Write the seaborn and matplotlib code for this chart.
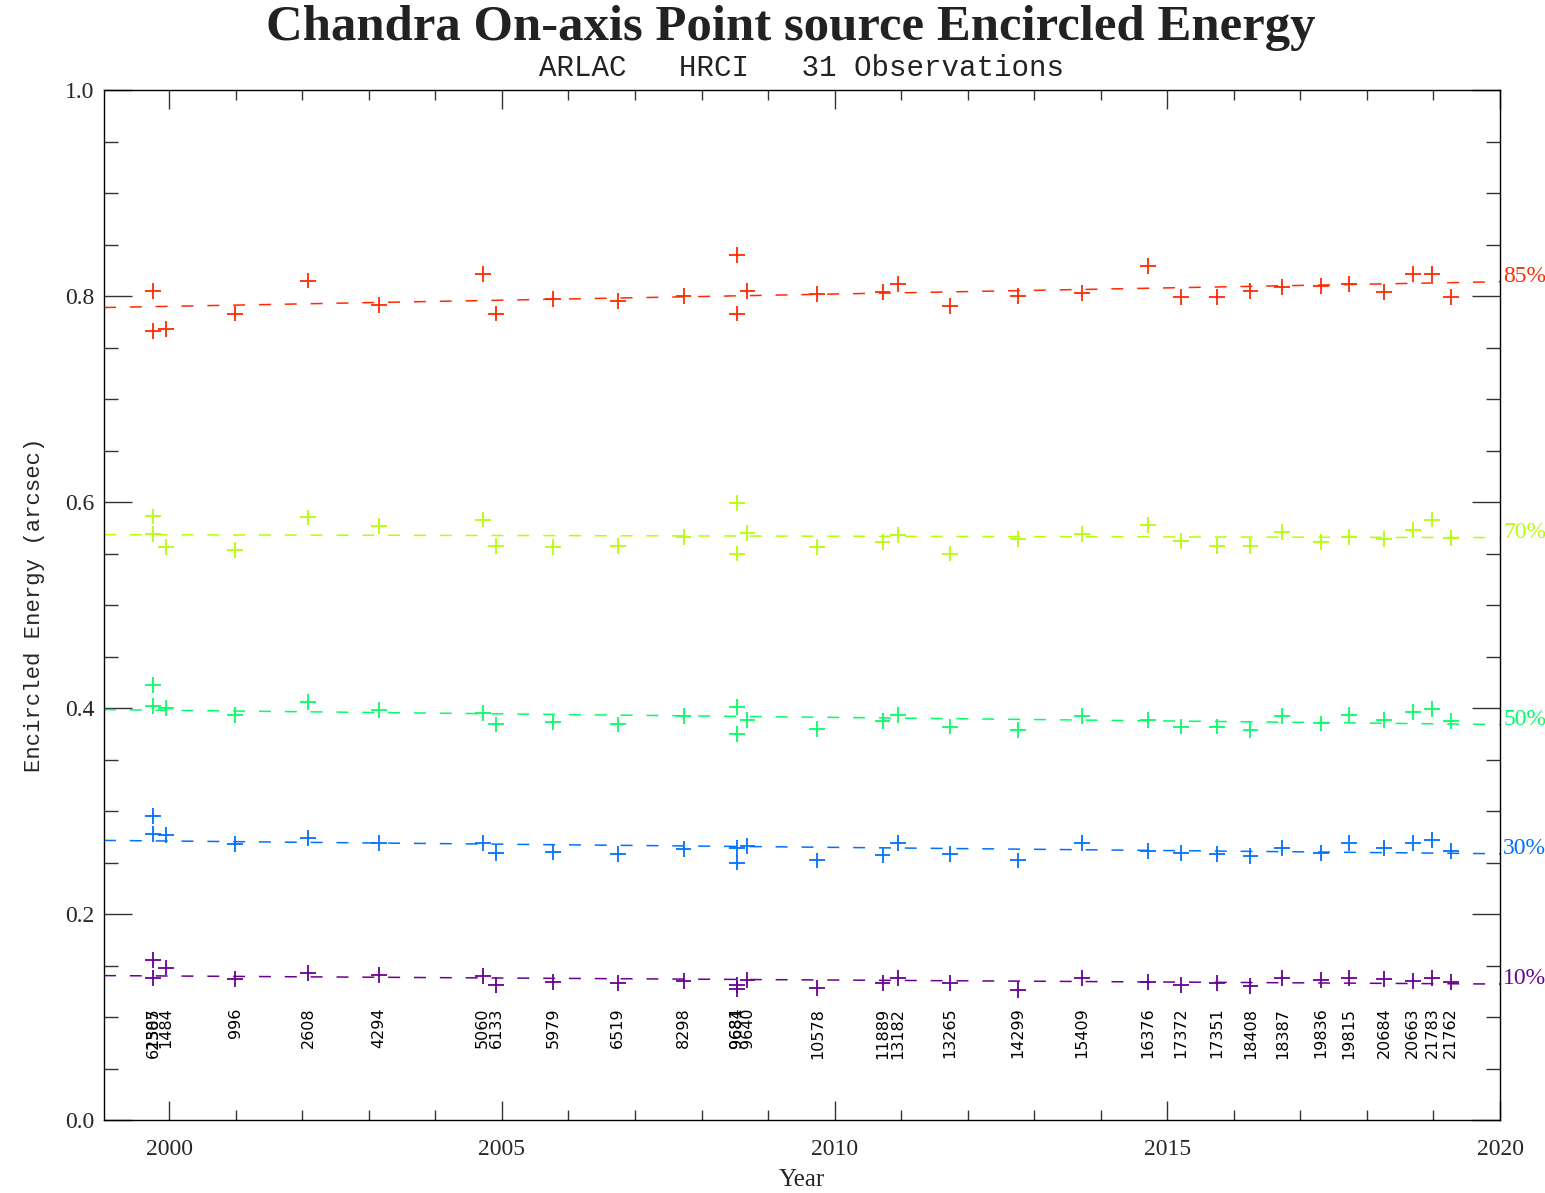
import numpy as np
import pandas as pd
import matplotlib
matplotlib.use("Agg")
import matplotlib.pyplot as plt
from matplotlib.ticker import MultipleLocator
import seaborn as sns

# observation ids, in plotting order
obsids = ["62507", "1385", "1484", "996", "2608", "4294", "5060", "6133", "5979", "6519",
          "8298", "9684", "9681", "9640", "10578", "11889", "13182", "13265", "14299", "15409",
          "16376", "17372", "17351", "18408", "18387", "19836", "19815", "20684", "20663", "21783",
          "21762"]
years = [1999.76, 1999.76, 1999.95, 2000.99, 2002.09, 2003.15, 2004.71, 2004.91, 2005.77, 2006.74,
         2007.73, 2008.53, 2008.53, 2008.69, 2009.74, 2010.72, 2010.95, 2011.73, 2012.75, 2013.72,
         2014.71, 2015.20, 2015.75, 2016.25, 2016.73, 2017.31, 2017.73, 2018.26, 2018.69, 2018.98,
         2019.26]

# encircled energy radius per fraction
ee85 = [0.805, 0.766, 0.768, 0.783, 0.815, 0.791, 0.821, 0.783, 0.797, 0.795,
        0.800, 0.840, 0.783, 0.805, 0.802, 0.804, 0.812, 0.790, 0.800, 0.803,
        0.829, 0.799, 0.799, 0.805, 0.809, 0.810, 0.812, 0.804, 0.821, 0.821,
        0.799]
ee70 = [0.586, 0.569, 0.556, 0.553, 0.585, 0.577, 0.583, 0.557, 0.556, 0.557,
        0.566, 0.599, 0.550, 0.570, 0.556, 0.561, 0.568, 0.550, 0.564, 0.569,
        0.578, 0.562, 0.557, 0.557, 0.571, 0.561, 0.566, 0.564, 0.573, 0.583,
        0.565]
ee50 = [0.422, 0.402, 0.400, 0.393, 0.406, 0.398, 0.395, 0.384, 0.386, 0.384,
        0.392, 0.401, 0.375, 0.388, 0.380, 0.387, 0.393, 0.382, 0.379, 0.392,
        0.388, 0.382, 0.382, 0.379, 0.392, 0.385, 0.393, 0.388, 0.396, 0.399,
        0.387]
ee30 = [0.295, 0.278, 0.277, 0.268, 0.274, 0.269, 0.269, 0.259, 0.260, 0.258,
        0.263, 0.264, 0.250, 0.266, 0.252, 0.257, 0.269, 0.258, 0.252, 0.269,
        0.261, 0.259, 0.258, 0.256, 0.264, 0.259, 0.269, 0.264, 0.269, 0.272,
        0.261]
ee10 = [0.155, 0.138, 0.148, 0.137, 0.143, 0.141, 0.140, 0.131, 0.134, 0.133,
        0.135, 0.131, 0.127, 0.136, 0.128, 0.133, 0.138, 0.133, 0.126, 0.138,
        0.134, 0.131, 0.133, 0.130, 0.138, 0.136, 0.138, 0.137, 0.135, 0.138,
        0.134]

fractions = ["85%", "70%", "50%", "30%", "10%"]
colors = ["#ff2a00", "#b4ff00", "#00ff66", "#0070ff", "#6a0090"]

series = dict(zip(fractions, [ee85, ee70, ee50, ee30, ee10]))
df = pd.concat([pd.DataFrame({"year": years, "ee": v, "frac": k}) for k, v in series.items()],
               ignore_index=True)

sns.set_theme(style="ticks")
plt.rcParams["font.family"] = ["Liberation Serif", "DejaVu Serif"]
plt.rcParams["lines.scale_dashes"] = False

fig = plt.figure(figsize=(15.45, 11.93), dpi=100)
ax = fig.add_axes([104 / 1545, 1 - 1120 / 1193, (1500 - 104) / 1545, (1120 - 90) / 1193])

sns.scatterplot(data=df, x="year", y="ee", hue="frac", palette=dict(zip(fractions, colors)),
                marker="+", s=130, linewidth=1.3, legend=False, ax=ax, zorder=3)

xlo, xhi = 1999.02, 2020.0
xx = np.array([xlo, xhi])
for frac, col in zip(fractions, colors):
    k, b = np.polyfit(years, series[frac], 1)
    ax.plot(xx, k * xx + b, color=col, lw=1.1, dashes=(8.6, 10.0))
    ax.text(xhi + 0.05, k * xhi + b, frac, color=col, fontsize=17, va="baseline", ha="left",
            clip_on=False)

# obsid labels overlap where observations fall close together, as in the source plot
for oid, yr in zip(obsids, years):
    ax.text(yr, 0.109, oid, rotation=90, ha="center", va="top", fontsize=11.5,
            family="DejaVu Sans", color="black")

ax.set_xlim(xlo, xhi)
ax.set_ylim(0, 1.0)
ax.xaxis.set_major_locator(MultipleLocator(5))
ax.xaxis.set_minor_locator(MultipleLocator(1))
ax.yaxis.set_major_locator(MultipleLocator(0.2))
ax.yaxis.set_minor_locator(MultipleLocator(0.05))
ax.yaxis.set_major_formatter(matplotlib.ticker.FormatStrFormatter("%.1f"))
ax.tick_params(which="both", direction="in", top=True, right=True, width=1, color="#333333")
ax.tick_params(which="major", axis="y", length=20, pad=7, labelsize=17)
ax.tick_params(which="minor", axis="y", length=10)
ax.tick_params(which="major", axis="x", length=14, pad=14, labelsize=17)
ax.tick_params(which="minor", axis="x", length=7)
for sp in ax.spines.values():
    sp.set_linewidth(1.0)
    sp.set_color("black")

ax.set_xlabel("Year", fontsize=18, labelpad=6)
ax.set_ylabel("Encircled Energy (arcsec)", fontsize=16, labelpad=14,
              family=["Liberation Mono", "DejaVu Sans Mono"])

fig.text(0.512, 1 - 28 / 1193, "Chandra On-axis Point source Encircled Energy", ha="center",
         va="center", fontsize=36.5, fontweight="bold", color="#222222")
fig.text(0.519, 1 - 68 / 1193, "ARLAC   HRCI   31 Observations", ha="center", va="center",
         fontsize=21, family=["Liberation Mono", "DejaVu Sans Mono"], color="#222222")

fig.savefig("out.png", dpi=100)
